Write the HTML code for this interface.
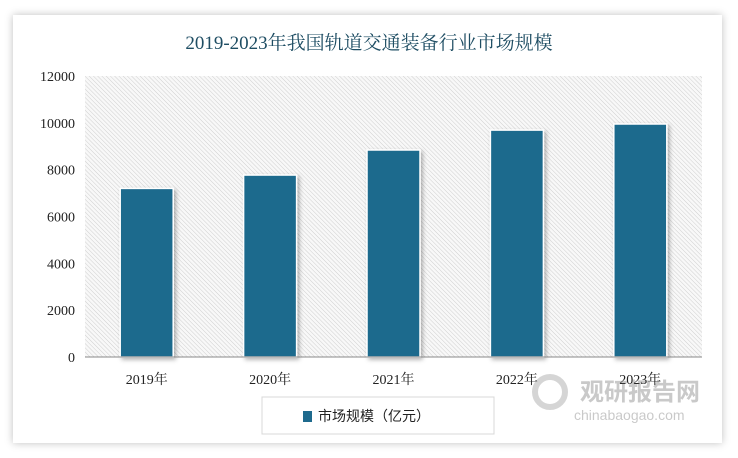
<!DOCTYPE html>
<html><head><meta charset="utf-8"><style>
body{margin:0;background:#fff;width:738px;height:458px;overflow:hidden;font-family:"Liberation Serif","Noto Serif CJK SC",serif}
#card{position:absolute;left:13px;top:15px;width:709px;height:428px;background:#fff;box-shadow:0 0 8px rgba(0,0,0,0.25)}
</style></head><body>
<div id="card"></div>
<svg id="chart" width="738" height="458" style="position:absolute;left:0;top:0">
<defs>
<pattern id="hatch" width="3" height="3" patternUnits="userSpaceOnUse" patternTransform="rotate(-45)">
<rect width="3" height="3" fill="#f8f8f8"/><line x1="0" y1="0" x2="0" y2="3" stroke="#cfcfcf" stroke-width="1"/>
</pattern>
<filter id="sh" x="-20%" y="-20%" width="140%" height="140%"><feDropShadow dx="2" dy="2" stdDeviation="2" flood-color="#000" flood-opacity="0.3"/></filter>
</defs>
<text x="369" y="49" text-anchor="middle" font-size="19" fill="#1e4d63">2019-2023年我国轨道交通装备行业市场规模</text>
<rect x="85" y="76" width="617" height="281" fill="url(#hatch)"/>
<g id="bars"></g>
<g id="yticks"></g>
<g id="xticks"></g>
<line x1="85" y1="357" x2="702" y2="357" stroke="#888" stroke-width="1"/>
<rect x="262" y="397" width="232" height="37" fill="#fff" stroke="#d8d8d8"/>
<rect x="303" y="411" width="9" height="11" fill="#1e6a8d"/>
<text x="318" y="421" font-size="14" fill="#222" font-family="Liberation Sans, Noto Sans CJK SC, sans-serif">市场规模（亿元）</text>
<g opacity="0.35">
<circle cx="550" cy="392" r="15" fill="none" stroke="#888" stroke-width="6"/>
<text x="580" y="400" font-size="24" font-weight="bold" fill="#666" font-family="Noto Sans CJK SC, sans-serif">观研报告网</text>
<text x="574" y="420" font-size="14" fill="#666" font-family="Liberation Sans, sans-serif">chinabaogao.com</text>
</g>
</svg>
<script>
const categories=["2019年","2020年","2021年","2022年","2023年"];
const values=[7200,7770,8840,9690,9950];
const yTicks=[0,2000,4000,6000,8000,10000,12000];
const ns="http://www.w3.org/2000/svg";
const x0=85,x1=702,yTop=76,yBot=357,yMax=12000;
const bw=(x1-x0)/categories.length, barW=53;
const y=v=>yBot-(v/yMax)*(yBot-yTop);
const bars=document.getElementById('bars'),yt=document.getElementById('yticks'),xt=document.getElementById('xticks');
categories.forEach((c,i)=>{
 const cx=x0+bw*(i+0.5);
 const r=document.createElementNS(ns,'rect');
 
 
 r.setAttribute('x',cx-barW/2);r.setAttribute('y',y(values[i]));
 r.setAttribute('width',barW);r.setAttribute('height',yBot-y(values[i]));
 r.setAttribute('fill','#1e6a8d');r.setAttribute('stroke','#fff');r.setAttribute('stroke-width','1.5');r.setAttribute('filter','url(#sh)');
 bars.appendChild(r);
 const t=document.createElementNS(ns,'text');
 
 
 t.setAttribute('x',cx);t.setAttribute('y',384);t.setAttribute('text-anchor','middle');t.setAttribute('font-size','14');t.setAttribute('fill','#222');
 t.textContent=c;xt.appendChild(t);
});
yTicks.forEach(v=>{
 const t=document.createElementNS(ns,'text');
 
 
 t.setAttribute('x',75);t.setAttribute('y',y(v)+5);t.setAttribute('text-anchor','end');t.setAttribute('font-size','14');t.setAttribute('fill','#222');
 t.textContent=v;yt.appendChild(t);
});
</script>
</body></html>
